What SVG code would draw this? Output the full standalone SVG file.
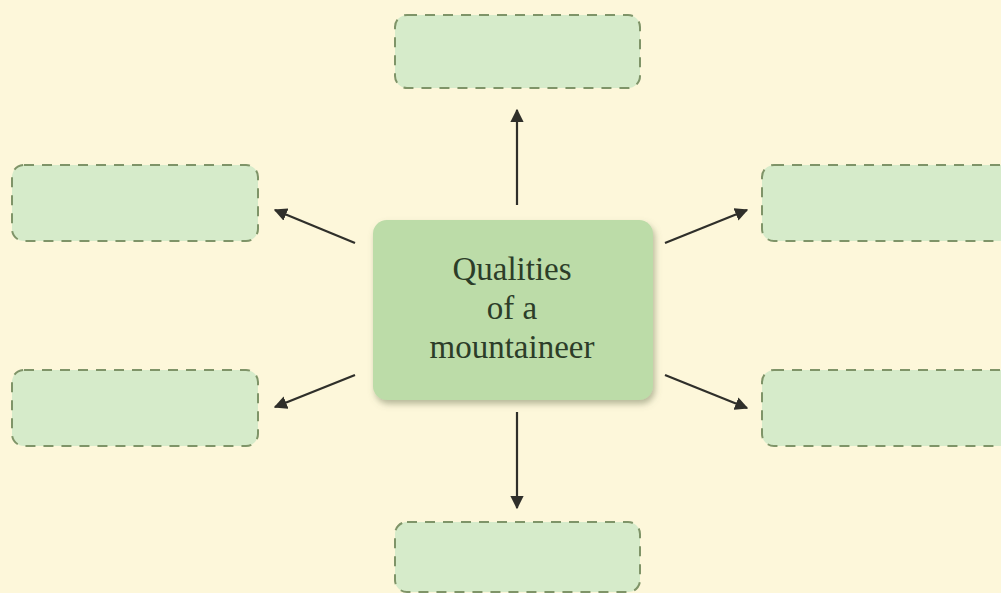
<svg xmlns="http://www.w3.org/2000/svg" width="1001" height="593" viewBox="0 0 1001 593">
<style>
.blank{fill:#d6ebca;stroke:#7f9468;stroke-width:2;stroke-dasharray:10,8}
.conn{stroke:#2f2f2a;stroke-width:2.2;fill:none}
.lbl{font-family:"Liberation Serif","DejaVu Serif",serif;font-size:33px;fill:#2c3d28;text-anchor:middle}
</style>
<defs>
<marker id="ah" viewBox="0 0 10 10" refX="9" refY="5" markerWidth="6" markerHeight="6" orient="auto" markerUnits="strokeWidth">
<path d="M0,0 L10,5 L0,10 z" fill="#2f2f2a"/>
</marker>
<filter id="sh" x="-10%" y="-10%" width="125%" height="130%">
<feDropShadow dx="2" dy="4" stdDeviation="3" flood-color="#6f7a5a" flood-opacity="0.5"/>
</filter>
</defs>
<rect width="1001" height="593" fill="#fdf7da"/>
<g id="connectors">
<line class="conn" x1="517" y1="205" x2="517" y2="110" marker-end="url(#ah)"/>
<line class="conn" x1="517" y1="412" x2="517" y2="508" marker-end="url(#ah)"/>
<line class="conn" x1="355" y1="243" x2="275" y2="210" marker-end="url(#ah)"/>
<line class="conn" x1="355" y1="375" x2="275" y2="407" marker-end="url(#ah)"/>
<line class="conn" x1="665" y1="243" x2="747" y2="210" marker-end="url(#ah)"/>
<line class="conn" x1="665" y1="375" x2="747" y2="408" marker-end="url(#ah)"/>
</g>
<g id="center">
<rect x="373" y="220" width="280" height="180" rx="14" fill="#bcdca8" filter="url(#sh)"/>
<text class="lbl" x="512" y="280">Qualities</text>
<text class="lbl" x="512" y="319">of a</text>
<text class="lbl" x="512" y="358">mountaineer</text>
</g>
<g id="top"><rect class="blank" x="395" y="15" width="245" height="73" rx="12"/></g>
<g id="left-upper"><rect class="blank" x="12" y="165" width="246" height="76" rx="12"/></g>
<g id="right-upper"><rect class="blank" x="762" y="165" width="260" height="76" rx="12"/></g>
<g id="left-lower"><rect class="blank" x="12" y="370" width="246" height="76" rx="12"/></g>
<g id="right-lower"><rect class="blank" x="762" y="370" width="260" height="76" rx="12"/></g>
<g id="bottom"><rect class="blank" x="395" y="522" width="245" height="70" rx="12"/></g>
</svg>
